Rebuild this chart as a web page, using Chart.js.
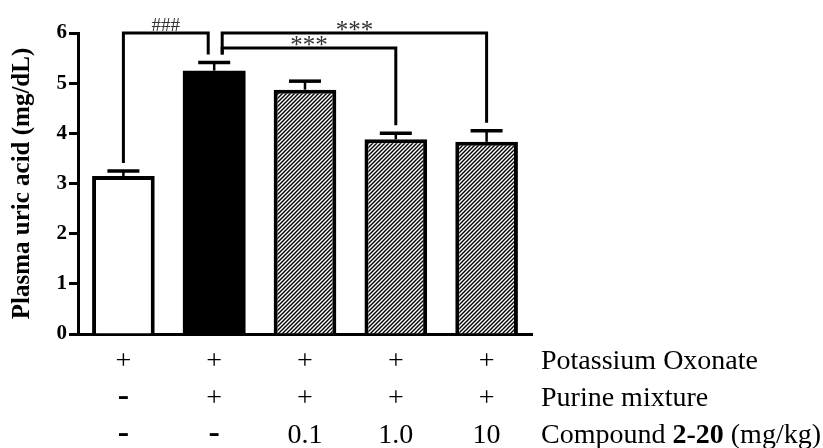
<!DOCTYPE html>
<html>
<head>
<meta charset="utf-8">
<script src="https://cdn.jsdelivr.net/npm/chart.js@4.4.0/dist/chart.umd.min.js"></script>
<style>
  html, body { margin: 0; padding: 0; background: #fff; }
</style>
</head>
<body>
<canvas id="uricChart" width="823" height="448"></canvas>
<script>
// plasma uric acid per group, mean and SEM
const groups = ['Normal', 'Model', 'Cpd 0.1', 'Cpd 1.0', 'Cpd 10'];
const uricAcid = [3.15, 5.25, 4.87, 3.88, 3.83];
const uricSem = [0.10, 0.16, 0.17, 0.12, 0.22];
const yTicks = [0, 1, 2, 3, 4, 5, 6];

// treatment table under the x axis
const oxonateRow = ['+', '+', '+', '+', '+'];
const purineRow = ['-', '+', '+', '+', '+'];
const compoundRow = ['-', '-', '0.1', '1.0', '10'];
const rowNames = ['Potassium Oxonate', 'Purine mixture', 'Compound 2-20 (mg/kg)'];
const boldName = '2-20';

// significance brackets: bar a vs bar b, drawn at level (mg/dL)
const pairA = [0, 1, 1];
const pairB = [1, 3, 4];
const pairLevel = [6.0, 5.7, 6.0];
const pairMark = ['###', '***', '***'];

const SERIF = "'Times New Roman', 'Liberation Serif', serif";

function hatch() {
    const c = document.createElement('canvas');
    c.width = 4; c.height = 4;
    const g = c.getContext('2d');
    g.fillStyle = '#fff';
    g.fillRect(0, 0, 4, 4);
    g.strokeStyle = '#000';
    g.lineWidth = 1.4;
    g.beginPath();
    g.moveTo(-1, 5); g.lineTo(5, -1);
    g.moveTo(-1, 1); g.lineTo(1, -1);
    g.moveTo(3, 5); g.lineTo(5, 3);
    g.stroke();
    return g.createPattern(c, 'repeat');
}
const stripes = hatch();

const errorBars = {
    id: 'errorBars',
    afterDatasetsDraw(chart) {
        const ctx = chart.ctx;
        const y = chart.scales.y;
        const bars = chart.getDatasetMeta(0).data;
        ctx.save();
        ctx.strokeStyle = '#000';
        bars.forEach((bar, i) => {
            const top = y.getPixelForValue(uricAcid[i] + uricSem[i]);
            ctx.lineWidth = 2.5;
            ctx.beginPath();
            ctx.moveTo(bar.x, bar.y);
            ctx.lineTo(bar.x, top);
            ctx.stroke();
            ctx.lineWidth = 3.5;
            ctx.beginPath();
            ctx.moveTo(bar.x - 16, top);
            ctx.lineTo(bar.x + 16, top);
            ctx.stroke();
        });
        ctx.restore();
    }
};

const brackets = {
    id: 'brackets',
    afterDatasetsDraw(chart) {
        const ctx = chart.ctx;
        const y = chart.scales.y;
        const bars = chart.getDatasetMeta(0).data;
        const legBottom = i => y.getPixelForValue(uricAcid[i] + uricSem[i]) - 8;
        // a bar that ends one bracket and starts another gets two legs
        const legX = (i, side) => {
            if (!(pairA.includes(i) && pairB.includes(i))) return bars[i].x;
            return side === 'a' ? bars[i].x + 8 : bars[i].x - 6;
        };
        ctx.save();
        ctx.strokeStyle = '#000';
        ctx.lineWidth = 3;
        ctx.lineJoin = 'miter';
        ctx.lineCap = 'butt';
        pairA.forEach((a, k) => {
            const b = pairB[k];
            const x1 = legX(a, 'a');
            const x2 = legX(b, 'b');
            const yl = y.getPixelForValue(pairLevel[k]);
            ctx.beginPath();
            ctx.moveTo(x1, legBottom(a));
            ctx.lineTo(x1, yl);
            ctx.lineTo(x2, yl);
            ctx.lineTo(x2, legBottom(b));
            ctx.stroke();

            const mark = pairMark[k];
            ctx.font = (mark[0] === '*' ? 25 : 19) + 'px ' + SERIF;
            ctx.fillStyle = '#333';
            ctx.textAlign = 'center';
            ctx.textBaseline = 'alphabetic';
            const m = ctx.measureText(mark);
            ctx.fillText(mark, (x1 + x2) / 2, yl - 2.5 - m.actualBoundingBoxDescent);
        });
        ctx.restore();
    }
};

const conditionTable = {
    id: 'conditionTable',
    afterDraw(chart) {
        const ctx = chart.ctx;
        const x = chart.scales.x;
        const area = chart.chartArea;
        const rows = [oxonateRow, purineRow, compoundRow];
        const rowY = [35, 72, 109].map(d => area.bottom + d);
        ctx.save();
        ctx.fillStyle = '#000';
        ctx.textBaseline = 'alphabetic';
        rows.forEach((row, r) => {
            ctx.textAlign = 'center';
            row.forEach((cell, i) => {
                ctx.font = cell === '-' ? 'bold 34px ' + SERIF : '28px ' + SERIF;
                ctx.fillText(cell, x.getPixelForValue(i), rowY[r]);
            });
            // row name, with the compound number in bold
            ctx.textAlign = 'left';
            let tx = area.right + 9;
            const name = rowNames[r];
            const parts = name.includes(boldName) ? name.split(boldName) : [name];
            parts.forEach((p, j) => {
                ctx.font = '28px ' + SERIF;
                ctx.fillText(p, tx, rowY[r]);
                tx += ctx.measureText(p).width;
                if (j < parts.length - 1) {
                    ctx.font = 'bold 28px ' + SERIF;
                    ctx.fillText(boldName, tx, rowY[r]);
                    tx += ctx.measureText(boldName).width;
                }
            });
        });
        ctx.restore();
    }
};

new Chart(document.getElementById('uricChart'), {
    type: 'bar',
    data: {
        labels: groups,
        datasets: [{
            data: uricAcid,
            backgroundColor: ['#fff', '#000', stripes, stripes, stripes],
            borderColor: '#000',
            // solid bar needs no outline (avoids a seam between fill and border)
            borderWidth: [4, 0, 4, 4, 4],
            categoryPercentage: 1,
            barPercentage: 0.69
        }]
    },
    options: {
        responsive: false,
        animation: false,
        layout: { padding: { top: 33, right: 291, bottom: 114, left: 0 } },
        plugins: {
            legend: { display: false },
            tooltip: { enabled: false }
        },
        scales: {
            x: {
                z: 1,
                grid: { display: false, drawTicks: false },
                border: { display: true, width: 3, color: '#000' },
                ticks: { display: false },
                afterFit: s => { s.height = 0; }
            },
            y: {
                min: 0,
                max: 6,
                afterFit: s => { s.width = 78; },
                afterBuildTicks: s => { s.ticks = yTicks.map(v => ({ value: v })); },
                ticks: {
                    color: '#000',
                    padding: 2,
                    font: { family: SERIF, size: 21, weight: 'bold' }
                },
                grid: {
                    drawOnChartArea: false,
                    tickLength: 9,
                    tickWidth: 3,
                    tickColor: '#000',
                    color: '#000'
                },
                border: { width: 3, color: '#000' },
                title: {
                    display: true,
                    text: 'Plasma uric acid (mg/dL)',
                    color: '#000',
                    padding: { top: 8, bottom: 0 },
                    font: { family: SERIF, size: 25, weight: 'bold' }
                }
            }
        }
    },
    plugins: [errorBars, brackets, conditionTable]
});
</script>
</body>
</html>
